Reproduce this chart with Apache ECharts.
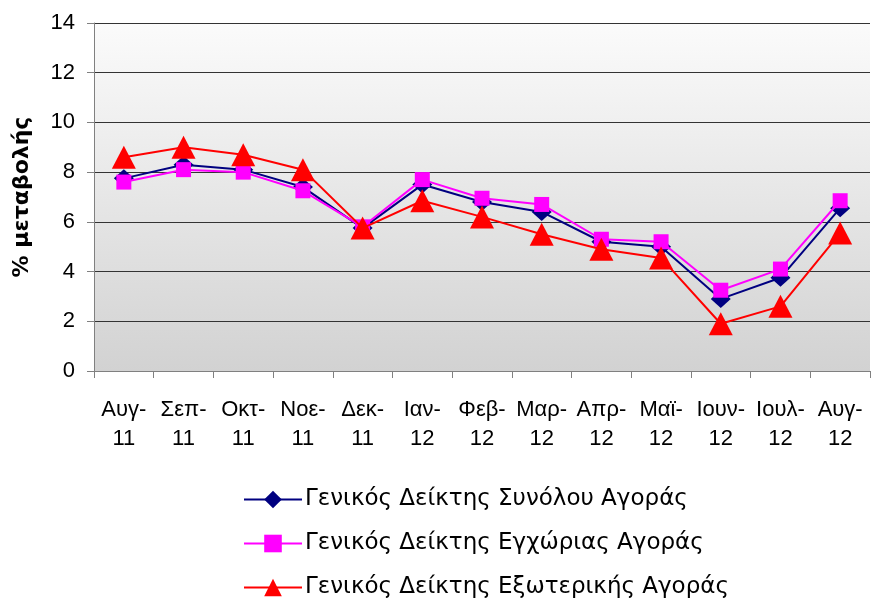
<!DOCTYPE html>
<html>
<head>
<meta charset="utf-8">
<script src="https://cdn.jsdelivr.net/npm/echarts@6/dist/echarts.min.js"></script>
<style>
  html, body { margin: 0; padding: 0; background: #fff; }
  #main { width: 872px; height: 601px; }
</style>
</head>
<body>
<div id="main"></div>
<script>
const months = ['Αυγ-\n11', 'Σεπ-\n11', 'Οκτ-\n11', 'Νοε-\n11', 'Δεκ-\n11', 'Ιαν-\n12', 'Φεβ-\n12',
  'Μαρ-\n12', 'Απρ-\n12', 'Μαϊ-\n12', 'Ιουν-\n12', 'Ιουλ-\n12', 'Αυγ-\n12'];
const synolou = [7.75, 8.3, 8.1, 7.4, 5.75, 7.5, 6.8, 6.4, 5.2, 5.0, 2.9, 3.75, 6.55];
const egxorias = [7.6, 8.1, 8.0, 7.25, 5.8, 7.7, 6.95, 6.7, 5.3, 5.2, 3.25, 4.1, 6.85];
const exoterikis = [8.6, 9.0, 8.7, 8.1, 5.75, 6.85, 6.2, 5.5, 4.9, 4.55, 1.9, 2.6, 5.55];

var myChart = echarts.init(document.getElementById('main'));
var font = 'Liberation Sans, Arial, sans-serif';
var wide = 'DejaVu Sans, sans-serif';

var option = {
  animation: false,
  legend: {
    orient: 'vertical',
    left: 238,
    top: 483,
    height: 118,
    itemGap: 21,
    itemWidth: 58,
    itemHeight: 22,
    textStyle: { fontFamily: wide, fontSize: 23, color: '#000', padding: [0, 0, 0, -2] },
    data: [
      { name: 'Γενικός Δείκτης Συνόλου Αγοράς', itemStyle: { color: '#000080' } },
      { name: 'Γενικός Δείκτης Εγχώριας Αγοράς', itemStyle: { color: '#ff00ff' } },
      { name: 'Γενικός Δείκτης Εξωτερικής Αγοράς', itemStyle: { color: '#ff0000' } }
    ]
  },
  grid: {
    left: 94, right: 2, top: 23, bottom: 230,
    show: true,
    borderWidth: 0,
    backgroundColor: new echarts.graphic.LinearGradient(0, 0, 0, 1, [
      { offset: 0, color: '#fbfbfb' },
      { offset: 1, color: '#d2d2d2' }
    ])
  },
  xAxis: {
    type: 'category',
    data: months,
    axisLine: { lineStyle: { color: '#808080', width: 1 } },
    axisTick: { show: true, length: 7, lineStyle: { color: '#808080' } },
    axisLabel: { fontFamily: font, fontSize: 22, color: '#000', lineHeight: 29, margin: 24, interval: 0 }
  },
  yAxis: {
    type: 'value',
    min: 0, max: 14, interval: 2,
    name: '% μεταβολής',
    nameLocation: 'middle',
    nameGap: 61,
    nameTextStyle: { fontFamily: wide, fontSize: 22, fontWeight: 'bold', color: '#000' },
    axisLine: { show: true, lineStyle: { color: '#808080', width: 1 } },
    axisTick: { show: true, length: 7, lineStyle: { color: '#808080' } },
    axisLabel: { fontFamily: font, fontSize: 22, color: '#000', margin: 19 },
    splitLine: { show: true, lineStyle: { color: '#333', width: 1 } }
  },
  series: [
    {
      name: 'Γενικός Δείκτης Συνόλου Αγοράς',
      type: 'line',
      data: synolou,
      symbol: 'diamond',
      symbolSize: [20, 18],
      lineStyle: { color: '#000080', width: 2 },
      itemStyle: { color: '#000080' },
      z: 3
    },
    {
      name: 'Γενικός Δείκτης Εγχώριας Αγοράς',
      type: 'line',
      data: egxorias,
      symbol: 'rect',
      symbolSize: 15,
      lineStyle: { color: '#ff00ff', width: 2 },
      itemStyle: { color: '#ff00ff' },
      z: 4
    },
    {
      name: 'Γενικός Δείκτης Εξωτερικής Αγοράς',
      type: 'line',
      data: exoterikis,
      symbol: 'triangle',
      symbolSize: [24, 23],
      lineStyle: { color: '#ff0000', width: 2 },
      itemStyle: { color: '#ff0000' },
      z: 5
    }
  ]
};

option && myChart.setOption(option);
</script>
</body>
</html>
